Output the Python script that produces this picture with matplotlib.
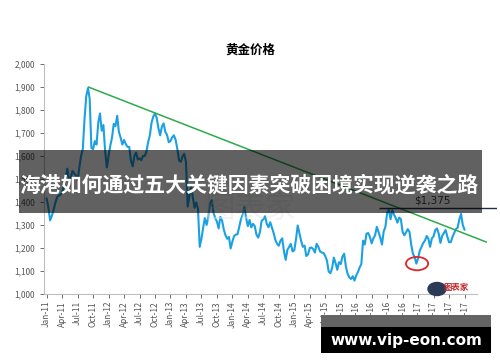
import numpy as np
import matplotlib.pyplot as plt
from matplotlib.patches import Rectangle, Ellipse, Circle

plt.rcParams['font.family'] = ['Noto Sans CJK SC', 'DejaVu Sans']

# gold price, roughly 3 readings per month, Jan 2011 - early Oct 2017
gold = [
    # 2011
    1415, 1375, 1320, 1340, 1365, 1395, 1420, 1428, 1432, 1440, 1470, 1505,
    1545, 1495, 1505, 1535, 1525, 1515, 1495, 1550, 1600, 1630, 1760, 1860,
    1895, 1850, 1635, 1630, 1665, 1650, 1745, 1785, 1710, 1735, 1620, 1550,
    # 2012
    1600, 1645, 1680, 1740, 1730, 1775, 1705, 1680, 1650, 1670, 1652, 1640,
    1640, 1580, 1555, 1600, 1615, 1585, 1590, 1582, 1600, 1600, 1618, 1660,
    1690, 1745, 1772, 1785, 1765, 1720, 1690, 1728, 1742, 1705, 1692, 1660,
    # 2013
    1665, 1682, 1690, 1670, 1630, 1580, 1575, 1598, 1610, 1575, 1380, 1425,
    1470, 1420, 1375, 1398, 1370, 1205, 1240, 1288, 1330, 1300, 1335, 1395,
    1408, 1355, 1330, 1315, 1285, 1335, 1320, 1280, 1255, 1240, 1248, 1198,
    # 2014
    1228, 1252, 1258, 1260, 1292, 1325, 1345, 1378, 1330, 1295, 1322, 1290,
    1305, 1295, 1258, 1245, 1268, 1318, 1325, 1338, 1305, 1290, 1312, 1288,
    1265, 1235, 1218, 1210, 1232, 1242, 1185, 1148, 1192, 1205, 1218, 1185,
    # 2015
    1190, 1238, 1298, 1265, 1230, 1205, 1210, 1165, 1172, 1200, 1202, 1195,
    1180, 1218, 1205, 1185, 1180, 1178, 1165, 1145, 1098, 1090, 1112, 1158,
    1135, 1105, 1138, 1130, 1162, 1175, 1120, 1088, 1072, 1065, 1077, 1058,
    # 2016
    1080, 1095, 1115, 1130, 1232, 1215, 1262, 1265, 1248, 1220, 1242, 1255,
    1292, 1270, 1245, 1215, 1272, 1292, 1352, 1366, 1325, 1365, 1345, 1330,
    1310, 1332, 1325, 1270, 1255, 1268, 1282, 1270, 1215, 1175, 1160, 1132,
    # 2017
    1155, 1188, 1205, 1222, 1232, 1252, 1240, 1205, 1242, 1250, 1278, 1285,
    1262, 1222, 1252, 1265, 1278, 1250, 1225, 1225, 1248, 1265, 1282, 1288,
    1325, 1348, 1300, 1280,
]
month_pos = np.arange(len(gold)) / 3.0  # months since Jan 2011

tick_labels = [f'{m}-{y}' for y in range(11, 18) for m in ['Jan', 'Apr', 'Jul', 'Oct']]
tick_pos = np.arange(len(tick_labels)) * 3

# downtrend from the Sep-2011 high, and the $1,375 resistance
trend_months = [8.1, 85.2]
trend_values = [1900, 1226]
resistance = 1375
resistance_from = 64.4
low_month, low_value = 71.8, 1132

fig = plt.figure(figsize=(5, 3.62), dpi=100)
ax = fig.add_axes([0.088, 0.188, 0.906, 0.635])

ax.plot(month_pos, gold, color='#1ba1e2', lw=1.5, zorder=3)
ax.plot(trend_months, trend_values, color='#2eaa4a', lw=1.1, zorder=4)
ax.hlines(resistance, resistance_from, 87.3, color='#1f2d4d', lw=1.0, zorder=4)
ax.text(74.7, resistance + 8, '$1,375', ha='center', va='bottom', fontsize=7.5,
        color='#404040', family=['DejaVu Sans'])
ax.add_patch(Ellipse((low_month, low_value), 4.3, 58, fill=False,
                     edgecolor='#e0262b', lw=1.3, zorder=5))

ax.set_xlim(-0.52, 87.3)
ax.set_ylim(1000, 2000)
ax.set_yticks(range(1000, 2001, 100))
ax.set_yticklabels([f'{v:,}' for v in range(1000, 2001, 100)])
ax.set_xticks(tick_pos)
ax.set_xticklabels(tick_labels, rotation=90)
ax.tick_params(axis='both', labelsize=6, colors='#555555', length=3, width=0.6)
ax.tick_params(axis='x', pad=2)
for side in ['top', 'right']:
    ax.spines[side].set_visible(False)
for side in ['left', 'bottom']:
    ax.spines[side].set_color('#bfbfbf')
ax.spines['bottom'].set_bounds(-0.52, 83.4)

fig.text(0.5, 1 - 50 / 362, '黄金价格', ha='center', va='center',
         fontsize=9, fontweight='bold', color='black')

# watermark and logo
fig.text(0.5, 1 - 210 / 362, '图表家', ha='center', va='center', fontsize=22,
         color='#e4e4e4', alpha=0.45, style='italic', zorder=2)
fig.add_artist(Circle((437 / 500, 1 - 289 / 362), 0.018, transform=fig.transFigure,
                      color='#2b3a55', zorder=3))
fig.text(456 / 500, 1 - 287 / 362, '图表家', ha='center', va='center', fontsize=6,
         color='#c0282d', fontweight='bold', zorder=3)

# overlay banner
fig.add_artist(Rectangle((19 / 500, 1 - 213 / 362), 463 / 500, 63 / 362,
                         transform=fig.transFigure, color='black', alpha=0.62,
                         lw=0, zorder=10))
fig.text(249 / 500, 1 - 185 / 362, '海港如何通过五大关键因素突破困境实现逆袭之路',
         ha='center', va='center', fontsize=15, fontweight='bold', color='white',
         zorder=11)

# footer box
fig.add_artist(Rectangle((321 / 500, 1 - 327 / 362), 170 / 500, 12 / 362,
                         transform=fig.transFigure, color='#646464', lw=0, zorder=10))
fig.add_artist(Rectangle((321 / 500, 1 - 353 / 362), 170 / 500, 26 / 362,
                         transform=fig.transFigure, color='black', lw=0, zorder=10))
fig.text(406 / 500, 1 - 340 / 362, 'www.vip-eon.com', ha='center', va='center',
         fontsize=11, fontweight='bold', color='white', family=['DejaVu Sans'],
         zorder=11)

fig.savefig('out.png', dpi=100)
